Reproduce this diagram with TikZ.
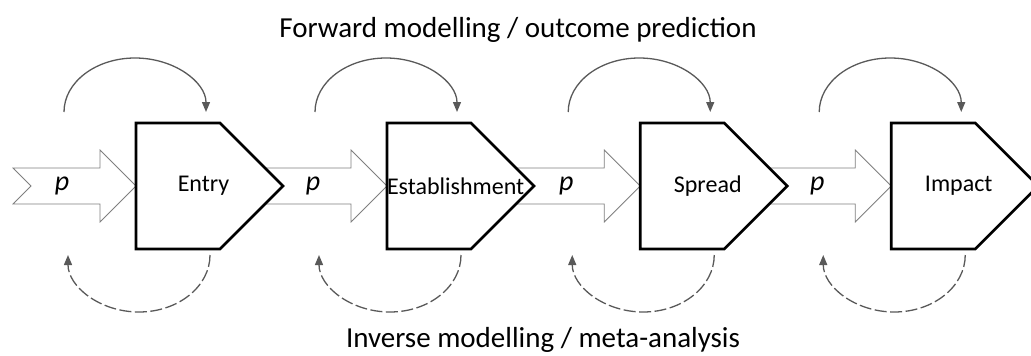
\documentclass[tikz,border=0pt]{standalone}
\usepackage{fontspec}
\setmainfont{Carlito}
\usepackage{tikz}
\usetikzlibrary{arrows.meta,positioning,backgrounds,calc}
\definecolor{arcgray}{RGB}{89,89,89}
\definecolor{flowgray}{RGB}{127,127,127}

\begin{document}
\begin{tikzpicture}[
  x=1pt, y=-1pt,
  stage/.style={rectangle, outer sep=0pt, inner sep=0pt,
    minimum width=135pt, minimum height=126pt,
    font=\fontsize{24}{28}\selectfont},
  outline/.style={draw=black, line width=2.6pt, fill=white, line join=miter},
  flow/.style={draw=flowgray, line width=0.8pt, fill=white},
  plabel/.style={font=\fontsize{28}{32}\selectfont\itshape},
  heading/.style={font=\fontsize{29}{34}\selectfont},
  fwd/.style={draw=arcgray, line width=1.3pt, -{Triangle[length=10pt,width=8pt]}},
  inv/.style={fwd, dash pattern=on 12pt off 3.5pt}
]
\useasboundingbox (0,0) rectangle (1031,356);

\node[stage] (entry) at (203.5,186) {Entry};
\node[stage, right=116pt of entry] (establishment) {Establishment};
\node[stage, right=116pt of establishment] (spread) {Spread};
\node[stage, right=116pt of spread] (impact) {Impact};

\node[heading] (forward) at (518,30) {Forward modelling / outcome prediction};
\node[heading] (inverse) at (543,340) {Inverse modelling / meta-analysis};

\coordinate (start) at (13,186);

% p arrows and stage outlines behind the texts
\begin{scope}[on background layer]
\draw[flow] ($(start)+(0,-18)$) -- ($(entry.west)+(-36,-18)$) -- ++(0,-18) -- (entry.west)
  -- ++(-36,36) -- ++(0,-18) -- ($(start)+(0,18)$) -- ++(18,-18) -- cycle;
\draw[flow] ($(entry.center)+(0,-18)$) -- ($(establishment.west)+(-36,-18)$) -- ++(0,-18) -- (establishment.west)
  -- ++(-36,36) -- ++(0,-18) -- ($(entry.center)+(0,18)$) -- cycle;
\draw[flow] ($(establishment.center)+(0,-18)$) -- ($(spread.west)+(-36,-18)$) -- ++(0,-18) -- (spread.west)
  -- ++(-36,36) -- ++(0,-18) -- ($(establishment.center)+(0,18)$) -- cycle;
\draw[flow] ($(spread.center)+(0,-18)$) -- ($(impact.west)+(-36,-18)$) -- ++(0,-18) -- (impact.west)
  -- ++(-36,36) -- ++(0,-18) -- ($(spread.center)+(0,18)$) -- cycle;
\foreach \s in {entry,establishment,spread,impact}
  \draw[outline] (\s.north west) -- ($(\s.north west)+(84,0)$) -- ($(\s.west)+(147,0)$)
    -- ($(\s.south west)+(84,0)$) -- (\s.south west) -- cycle;
\end{scope}

\node[plabel] (p1) at ($(entry.west)+(-74,0)$) {p};
\node[plabel] (p2) at ($(establishment.west)+(-74,0)$) {p};
\node[plabel] (p3) at ($(spread.west)+(-74,0)$) {p};
\node[plabel] (p4) at ($(impact.west)+(-74,0)$) {p};

% forward and inverse loops
\foreach \s in {entry,establishment,spread,impact} {
  \draw[fwd] ($(\s.west)+(-72,-74)$) arc[start angle=180, end angle=360, x radius=71, y radius=54];
  \draw[inv] ($(\s.west)+(74,69)$) arc[start angle=0, end angle=180, x radius=71, y radius=57];
}
\end{tikzpicture}
\end{document}
